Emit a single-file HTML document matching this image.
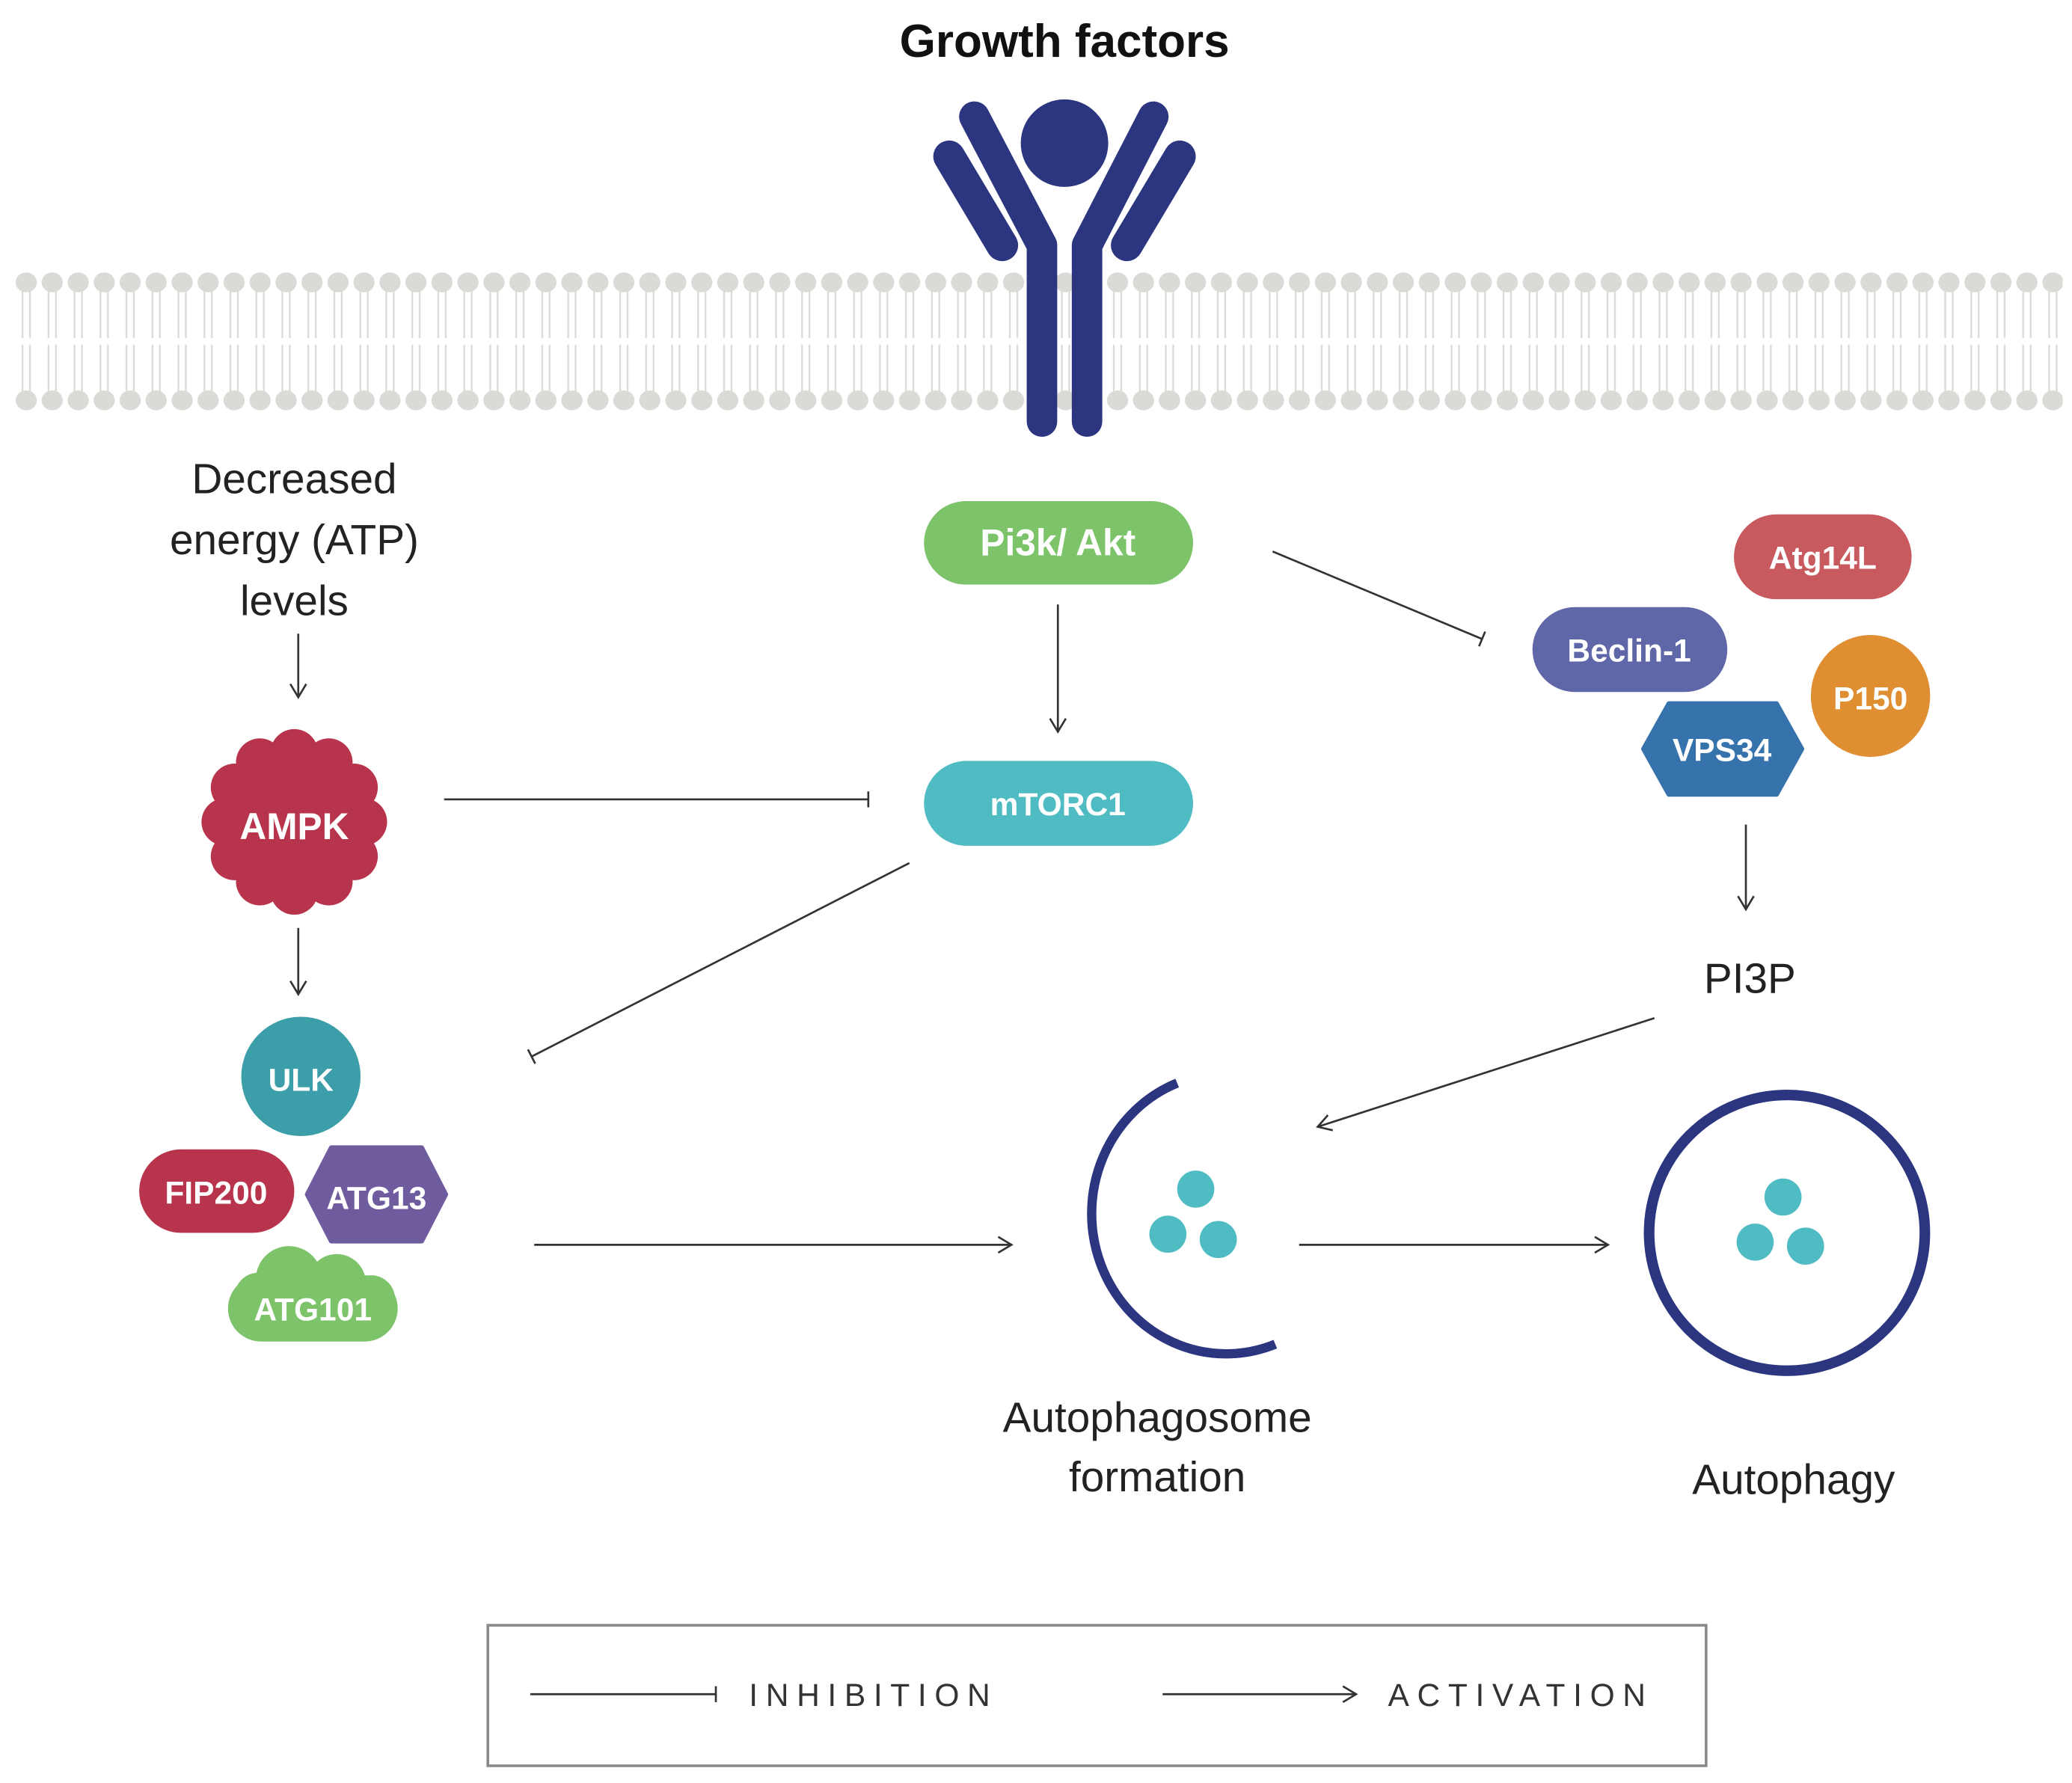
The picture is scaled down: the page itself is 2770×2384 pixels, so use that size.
<!DOCTYPE html>
<html><head><meta charset="utf-8"><style>
html,body{margin:0;padding:0;background:#fff}
svg{display:block}
text{font-family:"Liberation Sans",sans-serif}
.b{font-weight:bold;fill:#fff;text-anchor:middle}
.l{fill:#222;text-anchor:middle;font-size:32px}
</style></head><body>
<svg width="2770" height="2384" viewBox="0 0 1563 1345" preserveAspectRatio="none" xmlns="http://www.w3.org/2000/svg">
<defs>
<pattern id="mem" x="10" y="200" width="19.6" height="115" patternUnits="userSpaceOnUse">
<ellipse cx="9.8" cy="13" rx="8" ry="7.5" fill="#d9dbd6"/>
<ellipse cx="9.8" cy="102" rx="8" ry="7.5" fill="#d9dbd6"/>
<path d="M7 19 L7 55 M12.6 19 L12.6 55 M7 60 L7 96 M12.6 60 L12.6 96" stroke="#d9dbd6" stroke-width="1.3" fill="none"/>
</pattern>
<marker id="ar" markerWidth="14" markerHeight="14" refX="12" refY="7" orient="auto" markerUnits="userSpaceOnUse"><path d="M2 1 L12 7 L2 13" fill="none" stroke="#333" stroke-width="1.5"/></marker>
<marker id="inh" markerWidth="4" markerHeight="14" refX="2" refY="7" orient="auto" markerUnits="userSpaceOnUse"><path d="M2 1 L2 13" stroke="#333" stroke-width="1.5"/></marker>
</defs>
<rect x="10" y="200" width="1546" height="115" fill="url(#mem)"/>

<text x="803" y="43" text-anchor="middle" font-size="35" font-weight="bold" fill="#111">Growth factors</text>

<g stroke="#2b3580" stroke-linecap="round" fill="none">
<line x1="716" y1="118" x2="756" y2="185" stroke-width="24"/>
<line x1="890" y1="118" x2="850" y2="185" stroke-width="24"/>
<polyline points="735,88 786,185 786,318" stroke-width="23" stroke-linejoin="round"/>
<polyline points="870,88 820,185 820,318" stroke-width="23" stroke-linejoin="round"/>
</g>
<circle cx="803" cy="108" r="33" fill="#2b3580"/>

<text class="l" x="222" y="372">Decreased</text>
<text class="l" x="222" y="418">energy (ATP)</text>
<text class="l" x="222" y="464">levels</text>
<line x1="225" y1="478" x2="225" y2="526" stroke="#333" stroke-width="1.5" marker-end="url(#ar)"/>

<g fill="#b8344c">
<circle cx="222" cy="620" r="56"/>
<circle cx="222" cy="568" r="18"/><circle cx="248" cy="575" r="18"/><circle cx="267" cy="594" r="18"/><circle cx="274" cy="620" r="18"/><circle cx="267" cy="646" r="18"/><circle cx="248" cy="665" r="18"/><circle cx="222" cy="672" r="18"/><circle cx="196" cy="665" r="18"/><circle cx="177" cy="646" r="18"/><circle cx="170" cy="620" r="18"/><circle cx="177" cy="594" r="18"/><circle cx="196" cy="575" r="18"/>
</g>
<text class="b" x="222" y="633" font-size="28">AMPK</text>

<line x1="225" y1="700" x2="225" y2="750" stroke="#333" stroke-width="1.5" marker-end="url(#ar)"/>

<circle cx="227" cy="812" r="45" fill="#3c9ea8"/>
<text class="b" x="227" y="823" font-size="24">ULK</text>
<rect x="105" y="867" width="117" height="63" rx="31.5" fill="#b8344c"/>
<text class="b" x="163" y="908" font-size="24">FIP200</text>
<polygon points="232,901 250,866 318,866 336,901 318,936 250,936" fill="#6e5c9e" stroke="#6e5c9e" stroke-width="4" stroke-linejoin="round"/>
<text class="b" x="284" y="912" font-size="24">ATG13</text>
<g fill="#7cc36a">
<rect x="172" y="962" width="128" height="50" rx="25"/>
<circle cx="218" cy="965" r="25"/><circle cx="254" cy="968" r="22"/><circle cx="195" cy="978" r="18"/><circle cx="280" cy="980" r="18"/>
</g>
<text class="b" x="236" y="996" font-size="24">ATG101</text>

<rect x="697" y="378" width="203" height="63" rx="31.5" fill="#7cc36a"/>
<text class="b" x="798" y="419" font-size="28">Pi3k/ Akt</text>
<line x1="798" y1="456" x2="798" y2="552" stroke="#333" stroke-width="1.5" marker-end="url(#ar)"/>
<rect x="697" y="574" width="203" height="64" rx="32" fill="#4fbcc4"/>
<text class="b" x="798" y="615" font-size="24">mTORC1</text>

<line x1="335" y1="603" x2="655" y2="603" stroke="#333" stroke-width="1.5" marker-end="url(#inh)"/>
<line x1="686" y1="651" x2="401" y2="797" stroke="#333" stroke-width="1.5" marker-end="url(#inh)"/>
<line x1="960" y1="416" x2="1118" y2="482" stroke="#333" stroke-width="1.5" marker-end="url(#inh)"/>

<rect x="1308" y="388" width="134" height="64" rx="32" fill="#c8595e"/>
<text class="b" x="1375" y="429" font-size="24">Atg14L</text>
<rect x="1156" y="458" width="147" height="64" rx="32" fill="#5f67a8"/>
<text class="b" x="1229" y="499" font-size="24">Beclin-1</text>
<ellipse cx="1411" cy="525" rx="45" ry="46" fill="#e08e32"/>
<text class="b" x="1411" y="535" font-size="24">P150</text>
<polygon points="1240,565 1259,531 1340,531 1359,565 1340,599 1259,599" fill="#3673ad" stroke="#3673ad" stroke-width="4" stroke-linejoin="round"/>
<text class="b" x="1299" y="574" font-size="24">VPS34</text>
<line x1="1317" y1="622" x2="1317" y2="686" stroke="#333" stroke-width="1.5" marker-end="url(#ar)"/>
<text class="l" x="1320" y="749">PI3P</text>
<line x1="1248" y1="768" x2="994" y2="850" stroke="#333" stroke-width="1.5" marker-end="url(#ar)"/>

<line x1="403" y1="939" x2="763" y2="939" stroke="#333" stroke-width="1.5" marker-end="url(#ar)"/>
<path d="M888 817 A96 100 0 0 0 962 1014" fill="none" stroke="#2b3580" stroke-width="7"/>
<g fill="#4fbcc4"><circle cx="902" cy="897" r="14"/><circle cx="881" cy="931" r="14"/><circle cx="919" cy="935" r="14"/></g>
<line x1="980" y1="939" x2="1213" y2="939" stroke="#333" stroke-width="1.5" marker-end="url(#ar)"/>
<circle cx="1348" cy="930" r="104" fill="none" stroke="#2b3580" stroke-width="8"/>
<g fill="#4fbcc4"><circle cx="1345" cy="903" r="14"/><circle cx="1324" cy="937" r="14"/><circle cx="1362" cy="940" r="14"/></g>
<text class="l" x="873" y="1080" font-size="34">Autophagosome</text>
<text class="l" x="873" y="1125" font-size="34">formation</text>
<text class="l" x="1353" y="1127" font-size="34">Autophagy</text>

<rect x="368" y="1226" width="919" height="106" fill="none" stroke="#888" stroke-width="2"/>
<line x1="400" y1="1278" x2="540" y2="1278" stroke="#333" stroke-width="1.5" marker-end="url(#inh)"/>
<text x="565" y="1287" font-size="24" letter-spacing="6" fill="#333">INHIBITION</text>
<line x1="877" y1="1278" x2="1023" y2="1278" stroke="#333" stroke-width="1.5" marker-end="url(#ar)"/>
<text x="1047" y="1287" font-size="24" letter-spacing="6" fill="#333">ACTIVATION</text>
</svg>
</body></html>
